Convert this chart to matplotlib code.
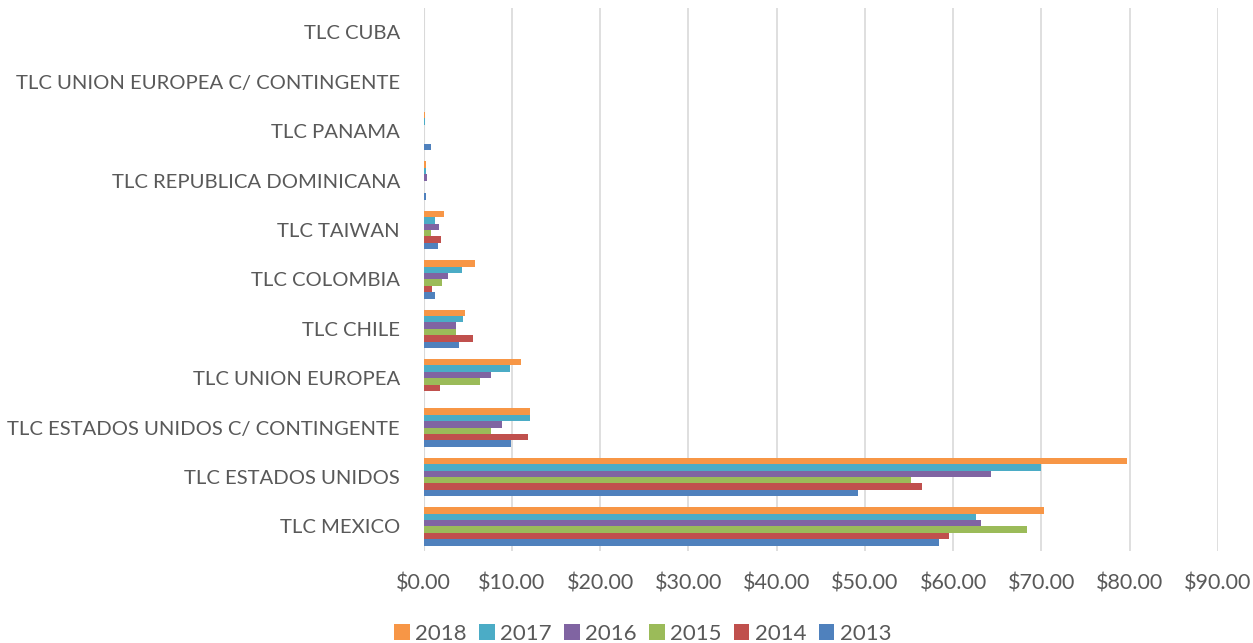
import numpy as np
import matplotlib.pyplot as plt
from matplotlib.ticker import FuncFormatter

categorias = ['TLC MEXICO', 'TLC ESTADOS UNIDOS', 'TLC ESTADOS UNIDOS C/ CONTINGENTE',
              'TLC UNION EUROPEA', 'TLC CHILE', 'TLC COLOMBIA', 'TLC TAIWAN',
              'TLC REPUBLICA DOMINICANA', 'TLC PANAMA',
              'TLC UNION EUROPEA C/ CONTINGENTE', 'TLC CUBA']

anios = ['2013', '2014', '2015', '2016', '2017', '2018']

v2013 = [58.4, 49.2, 9.9, 0.0, 4.0, 1.33, 1.6, 0.23, 0.8, 0.0, 0.0]
v2014 = [59.5, 56.5, 11.85, 1.86, 5.6, 0.95, 2.0, 0.02, 0.1, 0.0, 0.0]
v2015 = [68.4, 55.2, 7.6, 6.35, 3.7, 2.1, 0.85, 0.08, 0.0, 0.0, 0.0]
v2016 = [63.2, 64.3, 8.9, 7.7, 3.7, 2.8, 1.8, 0.35, 0.0, 0.0, 0.0]
v2017 = [62.6, 70.0, 12.05, 9.8, 4.45, 4.4, 1.25, 0.27, 0.15, 0.02, 0.0]
v2018 = [70.3, 79.7, 12.05, 11.0, 4.75, 5.8, 2.3, 0.27, 0.15, 0.02, 0.0]

series = [v2013, v2014, v2015, v2016, v2017, v2018]
colores = ['#4F81BD', '#C0504D', '#9BBB59', '#8064A2', '#4BACC6', '#F79646']

gris = '#595959'
plt.rcParams['font.family'] = ['Lato', 'DejaVu Sans']

fig = plt.figure(figsize=(12.53, 6.43), dpi=100)
ax = fig.add_axes([0.338, 0.143, 0.634, 0.845])

y = np.arange(len(categorias))
alto = 0.13
barras = []
for i, (vals, col) in enumerate(zip(series, colores)):
    b = ax.barh(y + (i - 2.5) * alto, vals, height=alto, color=col,
                label=anios[i], zorder=3)
    barras.append(b)

ax.set_xlim(0, 90)
ax.set_ylim(-0.5, len(categorias) - 0.5)
ax.set_xticks(np.arange(0, 91, 10))
ax.xaxis.set_major_formatter(FuncFormatter(lambda v, p: '${:.2f}'.format(v)))
ax.set_yticks(y)
ax.set_yticklabels(categorias)

ax.grid(axis='x', color='#D9D9D9', linewidth=1.2, zorder=0)
for s in ax.spines.values():
    s.set_visible(False)
ax.axvline(0, color='#D9D9D9', linewidth=1.5, zorder=1)
ax.tick_params(axis='both', length=0, colors=gris)
ax.tick_params(axis='y', pad=17, labelsize=14.6)
ax.tick_params(axis='x', pad=16, labelsize=15.5)

handles = barras[::-1]
fig.legend(handles, anios[::-1], loc='lower center', ncol=6,
           bbox_to_anchor=(0.513, -0.032), frameon=False, fontsize=16,
           labelcolor=gris, handlelength=0.7, handleheight=0.7,
           handletextpad=0.25, columnspacing=0.55)

fig.savefig('out.png', dpi=100)
